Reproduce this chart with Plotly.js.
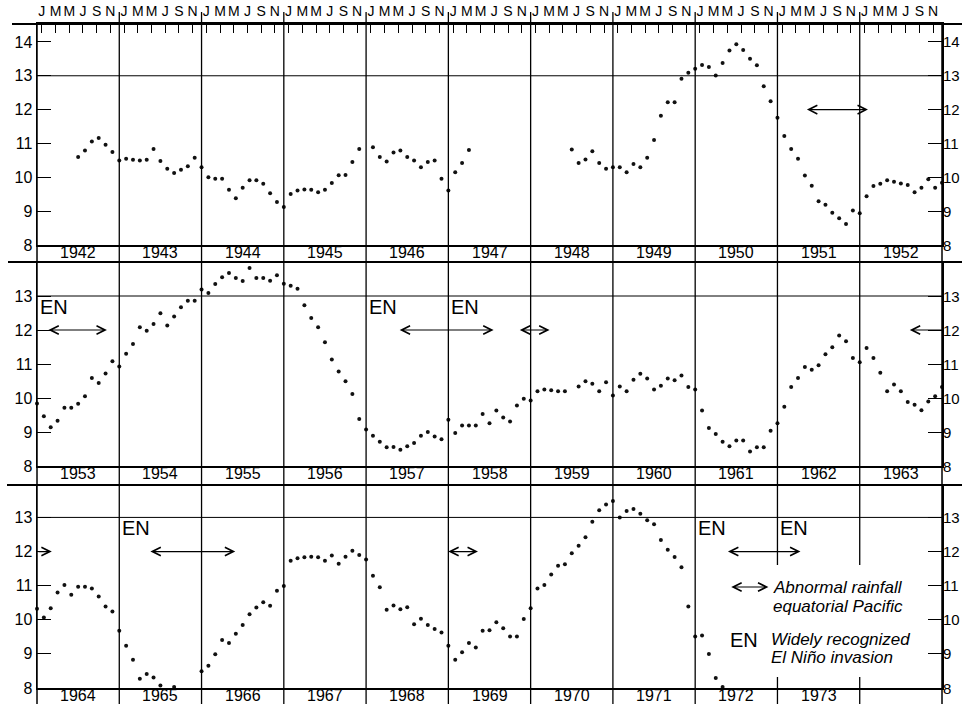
<!DOCTYPE html>
<html><head><meta charset="utf-8">
<script src="https://cdn.plot.ly/plotly-3.0.1.min.js"></script>
<style>html,body{margin:0;padding:0;background:#fff;}#chart{width:962px;height:704px;}</style>
</head><body><div id="chart"></div>
<script>
// ---- monthly values (Jan..Dec), null = no observation ----
const sst1942 = [null,null,null,null,null,10.60,10.79,11.06,11.16,10.96,10.75,10.50];
const sst1943 = [10.55,10.52,10.50,10.52,10.84,10.48,10.25,10.13,10.22,10.33,10.58,10.30];
const sst1944 = [10.00,9.96,9.96,9.63,9.38,9.69,9.91,9.91,9.81,9.53,9.27,9.12];
const sst1945 = [9.51,9.61,9.64,9.63,9.56,9.63,9.83,10.06,10.07,10.45,10.84,null];
const sst1946 = [10.89,10.60,10.47,10.73,10.79,10.60,10.50,10.30,10.45,10.50,9.96,9.61];
const sst1947 = [10.15,10.42,10.81,null,null,null,null,null,null,null,null,null];
const sst1948 = [null,null,null,null,null,10.82,10.42,10.53,10.77,10.42,10.25,10.30];
const sst1949 = [10.30,10.15,10.39,10.30,10.58,11.10,11.82,12.22,12.22,12.91,13.09,13.21];
const sst1950 = [13.32,13.26,13.01,13.38,13.75,13.93,13.76,13.50,13.31,12.69,12.25,11.76];
const sst1951 = [11.22,10.84,10.55,10.05,9.75,9.29,9.19,8.95,8.79,8.62,9.02,8.94];
const sst1952 = [9.44,9.74,9.81,9.91,9.87,9.82,9.77,9.56,9.69,9.94,9.69,9.84];
const sst1953 = [9.46,9.14,9.33,9.71,9.71,9.83,10.05,10.59,10.44,10.72,11.08,10.93];
const sst1954 = [11.30,11.59,12.08,11.98,12.18,12.49,12.13,12.40,12.67,12.86,12.86,13.19];
const sst1955 = [13.09,13.35,13.55,13.68,13.53,13.44,13.82,13.53,13.53,13.45,13.61,13.36];
const sst1956 = [13.30,13.21,12.73,12.35,12.08,11.64,11.13,10.78,10.49,10.12,9.38,9.07];
const sst1957 = [8.89,8.71,8.55,8.56,8.48,8.58,8.68,8.89,9.00,8.87,8.79,9.36];
const sst1958 = [8.97,9.19,9.19,9.19,9.53,9.26,9.63,9.43,9.31,9.78,9.98,9.93];
const sst1959 = [10.20,10.25,10.23,10.20,10.20,null,10.34,10.49,10.42,10.20,10.46,10.07];
const sst1960 = [10.34,10.20,10.54,10.71,10.57,10.25,10.36,10.57,10.52,10.66,10.32,10.25];
const sst1961 = [9.63,9.12,8.94,8.71,8.58,8.75,8.75,8.43,8.55,8.55,9.04,9.26];
const sst1962 = [9.74,10.32,10.59,10.91,10.83,10.96,11.29,11.49,11.84,11.67,11.18,11.05];
const sst1963 = [11.47,11.18,10.74,10.20,10.40,10.20,9.88,9.80,9.64,9.90,10.05,10.32];
const sst1964 = [10.07,10.34,10.80,11.02,10.73,10.97,10.97,10.92,10.68,10.39,10.24,9.68];
const sst1965 = [9.24,8.83,8.27,8.41,8.31,8.07,7.90,8.03,7.98,7.97,7.90,8.49];
const sst1966 = [8.65,8.99,9.41,9.32,9.59,9.85,10.16,10.36,10.51,10.41,10.85,10.99];
const sst1967 = [11.73,11.80,11.83,11.85,11.83,11.73,11.88,11.64,11.85,12.02,11.90,11.77];
const sst1968 = [11.29,10.95,10.29,10.42,10.31,10.37,9.87,10.03,9.85,9.73,9.63,9.24];
const sst1969 = [8.83,9.05,9.32,9.19,9.68,9.69,9.93,9.75,9.51,9.51,10.02,10.34];
const sst1970 = [10.92,11.02,11.33,11.58,11.63,11.95,12.17,12.42,12.87,13.21,13.38,13.48];
const sst1971 = [13.00,13.19,13.25,13.11,12.92,12.80,12.34,12.05,11.84,11.54,10.39,9.51];
const sst1972 = [9.54,9.00,8.29,8.03,null,null,null,null,null,null,null,null];

const seriesYears = [1942,1943,1944,1945,1946,1947,1948,1949,1950,1951,1952,1953,1954,1955,1956,1957,1958,1959,1960,1961,1962,1963,1964,1965,1966,1967,1968,1969,1970,1971,1972];
const seriesValues = [sst1942,sst1943,sst1944,sst1945,sst1946,sst1947,sst1948,sst1949,sst1950,sst1951,sst1952,sst1953,sst1954,sst1955,sst1956,sst1957,sst1958,sst1959,sst1960,sst1961,sst1962,sst1963,sst1964,sst1965,sst1966,sst1967,sst1968,sst1969,sst1970,sst1971,sst1972];

const panelStartYears = [1942, 1953, 1964];
const lastLabeledYear = 1973;
const monthLetters = ['J','M','M','J','S','N'];
const yTicksTop = [8,9,10,11,12,13,14];
const yTicksLower = [8,9,10,11,12,13];
const enYears = [1953, 1957, 1958, 1965, 1972, 1973];
const rainfallSpans = [[1951.34,1952.10],[1953.12,1953.85],[1957.39,1958.55],[1958.85,1959.23],[1963.59,1964.18],[1965.36,1966.41],[1968.98,1969.36],[1972.38,1973.28]];

// ---- geometry ----
const W = 962, H = 704, L = 37, R = 20, T = 24, B = 16;
const plotH = H - T - B, plotW = W - L - R;
const pY = py => (H - B - py) / plotH;
const pX = px => (px - L) / plotW;
const domains = [[pY(245), 1], [pY(466), pY(262)], [0, pY(485)]];
const yRanges = [[8, 14.53], [8, 14], [8, 13.95]];
const axN = p => p === 0 ? '' : String(p + 1);
const FONT = 'Liberation Sans, Arial, sans-serif';

// ---- traces ----
const traces = panelStartYears.map((y0, p) => {
  const xs = [], ys = [];
  seriesYears.forEach((yr, k) => {
    seriesValues[k].forEach((v, i) => {
      const xv = yr + (i + 1) / 12;
      if (v !== null && xv >= y0 - 1e-9 && xv <= y0 + 11 + 1e-9) { xs.push(xv); ys.push(v); }
    });
  });
  return {type: 'scatter', mode: 'markers', x: xs, y: ys,
    xaxis: 'x' + axN(p), yaxis: 'y' + axN(p),
    marker: {size: 4, color: '#111'}, cliponaxis: false, showlegend: false, hoverinfo: 'skip'};
});

// ---- layout ----
const monthVals = [], monthText = [];
for (let yr = panelStartYears[0]; yr < panelStartYears[0] + 11; yr++) {
  monthLetters.forEach((m, j) => { monthVals.push(yr + (2 * j + 0.7) / 12); monthText.push(m); });
}

const layout = {
  width: W, height: H, margin: {l: L, r: R, t: T, b: B, pad: 0},
  paper_bgcolor: '#fff', plot_bgcolor: '#fff', showlegend: false,
  font: {family: FONT, color: '#000', size: 15},
  shapes: [], annotations: []
};

panelStartYears.forEach((y0, p) => {
  const xa = {domain: [0, 1], anchor: 'y' + axN(p), range: [y0, y0 + 11], showgrid: false, zeroline: false,
    showline: true, linecolor: '#000', linewidth: p === 0 ? 2 : 1.5, mirror: true, fixedrange: true};
  if (p === 0) {
    Object.assign(xa, {side: 'top', tickmode: 'array', tickvals: monthVals, ticktext: monthText,
      ticks: 'inside', ticklen: 9, tickwidth: 1, tickcolor: '#000', tickfont: {size: 14, family: FONT}});
  } else {
    Object.assign(xa, {showticklabels: false, ticks: ''});
  }
  layout['xaxis' + axN(p)] = xa;
  layout['yaxis' + axN(p)] = {domain: domains[p], anchor: 'x' + axN(p), range: yRanges[p],
    tickmode: 'array', tickvals: p === 0 ? yTicksTop : yTicksLower, ticks: 'inside', ticklen: 14,
    tickwidth: 1, tickcolor: '#000', showline: true, linecolor: '#000', linewidth: 1.5,
    mirror: 'ticks', showgrid: false, zeroline: false, tickfont: {size: 16, family: FONT}, fixedrange: true};

  // 13 reference line
  layout.shapes.push({type: 'line', xref: 'paper', x0: 0, x1: 1, yref: 'y' + axN(p), y0: 13, y1: 13,
    line: {color: '#000', width: 1}});

  // year labels
  for (let yr = y0; yr < y0 + 11 && yr <= lastLabeledYear; yr++) {
    layout.annotations.push({xref: 'x' + axN(p), yref: 'y' + axN(p), x: yr + 0.5, y: 8, yanchor: 'top',
      yshift: 3, text: String(yr), showarrow: false, font: {size: 16}});
  }
  // right-hand tick labels
  (p === 0 ? yTicksTop : yTicksLower).forEach(v => {
    layout.annotations.push({xref: 'paper', yref: 'y' + axN(p), x: 1, xanchor: 'left', xshift: 0, y: v,
      yanchor: 'middle', text: String(v), showarrow: false, font: {size: 15}, borderpad: 0});
  });
  // rainfall arrows
  rainfallSpans.forEach(([a, b]) => {
    const lo = Math.max(a, y0), hi = Math.min(b, y0 + 11);
    if (hi <= lo) return;
    const side = (a >= y0 && b <= y0 + 11) ? 'end+start' : (a >= y0 ? 'start' : 'end');
    layout.annotations.push({xref: 'x' + axN(p), yref: 'y' + axN(p), axref: 'x' + axN(p), ayref: 'y' + axN(p),
      x: hi, y: 12, ax: lo, ay: 12, text: '', showarrow: true, arrowside: side,
      arrowhead: 5, startarrowhead: 5, arrowsize: 1.4, startarrowsize: 1.4, arrowwidth: 1.2,
      arrowcolor: '#000', standoff: 0, startstandoff: 0});
  });
  // El Niño labels
  enYears.filter(e => e >= y0 && e < y0 + 11).forEach(e => {
    layout.annotations.push({xref: 'x' + axN(p), yref: 'y' + axN(p), x: e, xanchor: 'left', xshift: 1,
      y: 12.68, yanchor: 'middle', text: 'EN', showarrow: false, font: {size: 20}});
  });
});

// year boundary lines (continuous through all panels, interrupted by legend)
for (let k = 1; k <= 10; k++) {
  const x = k / 11;
  if (k >= 9) {
    layout.shapes.push({type: 'line', xref: 'paper', yref: 'paper', x0: x, x1: x, y0: pY(565), y1: pY(12), line: {color: '#000', width: 1.3}});
    layout.shapes.push({type: 'line', xref: 'paper', yref: 'paper', x0: x, x1: x, y0: pY(H), y1: pY(677), line: {color: '#000', width: 1.3}});
  } else {
    layout.shapes.push({type: 'line', xref: 'paper', yref: 'paper', x0: x, x1: x, y0: pY(H), y1: pY(12), line: {color: '#000', width: 1.3}});
  }
}
// outer verticals
[0, 1].forEach(x => layout.shapes.push({type: 'line', xref: 'paper', yref: 'paper', x0: x, x1: x, y0: pY(H), y1: pY(24), line: {color: '#000', width: 1.5}}));
// separators extending past the axes
[[24, 12], [262, 8], [485, 7]].forEach(([py, px]) => layout.shapes.push({type: 'line', xref: 'paper', yref: 'paper',
  x0: pX(px), x1: pX(W), y0: pY(py), y1: pY(py), line: {color: '#000', width: 2}}));

// legend
layout.annotations.push({xref: 'x3', yref: 'y3', axref: 'x3', ayref: 'y3', x: 1972.89, y: 10.96, ax: 1972.42, ay: 10.96,
  text: '', showarrow: true, arrowside: 'end+start', arrowhead: 5, startarrowhead: 5, arrowsize: 1.4,
  startarrowsize: 1.4, arrowwidth: 1.2, arrowcolor: '#000', standoff: 0, startstandoff: 0});
layout.annotations.push({xref: 'x3', yref: 'y3', x: 1972.92, y: 10.96, xanchor: 'left', yanchor: 'middle',
  text: '<i>Abnormal rainfall</i>', showarrow: false, font: {size: 17}});
layout.annotations.push({xref: 'x3', yref: 'y3', x: 1972.92, y: 10.38, xanchor: 'left', yanchor: 'middle',
  text: '<i>equatorial Pacific</i>', showarrow: false, font: {size: 17}});
layout.annotations.push({xref: 'x3', yref: 'y3', x: 1972.40, y: 9.41, xanchor: 'left', yanchor: 'middle',
  text: 'EN', showarrow: false, font: {size: 20}});
layout.annotations.push({xref: 'x3', yref: 'y3', x: 1972.90, y: 9.41, xanchor: 'left', yanchor: 'middle',
  text: '<i>Widely recognized</i>', showarrow: false, font: {size: 17}});
layout.annotations.push({xref: 'x3', yref: 'y3', x: 1972.90, y: 8.89, xanchor: 'left', yanchor: 'middle',
  text: '<i>El Niño invasion</i>', showarrow: false, font: {size: 17}});

Plotly.newPlot('chart', traces, layout, {staticPlot: true, displayModeBar: false});
</script></body></html>
